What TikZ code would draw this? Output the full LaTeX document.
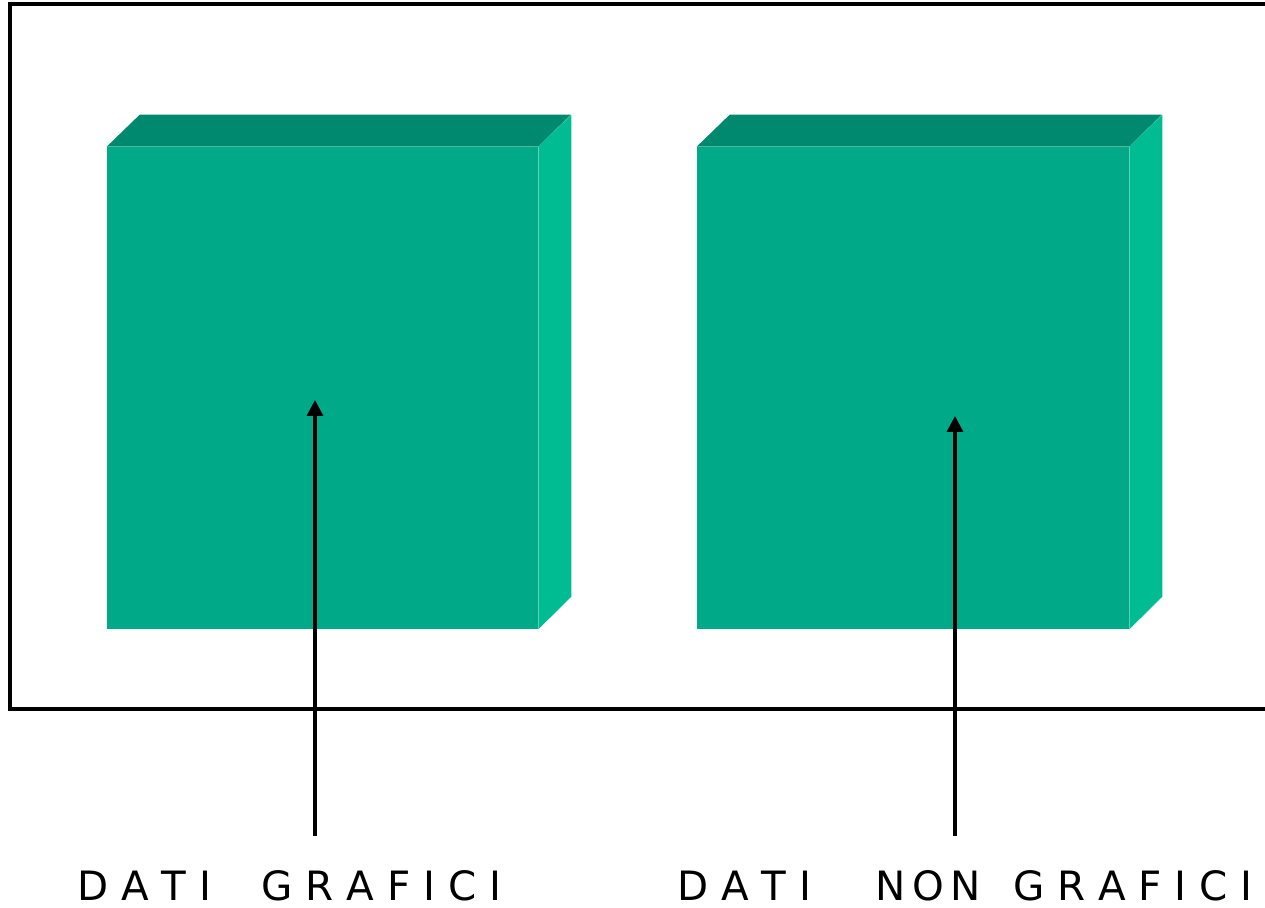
\documentclass[tikz,border=0pt]{standalone}
\usepackage{fontspec}
\setmainfont{DejaVu Sans}
\usetikzlibrary{arrows.meta}

\definecolor{fronte}{RGB}{0,170,136}
\definecolor{sopra}{RGB}{0,137,110}
\definecolor{lato}{RGB}{0,188,147}

\begin{document}
\begin{tikzpicture}[x=0.02cm, y=-0.02cm]
	\useasboundingbox (0,0) rectangle (1265,908);

	% cornice
	\draw[line width=1.8pt] (1275,4) -- (10,4) -- (10,709) -- (1275,709);

	% blocchi
	\node[fill=fronte, shape=rectangle, inner sep=0pt, minimum width=8.62cm, minimum height=9.64cm] (b_1) at (322.5,388) {};
	\node[fill=fronte, shape=rectangle, inner sep=0pt, minimum width=8.64cm, minimum height=9.64cm] (b_2) at (913,388) {};

	\fill[sopra] (b_1.north west) -- ++(33,-32) -- ++(431,0) -- (b_1.north east) -- cycle;
	\fill[lato] (b_1.north east) -- ++(33,-32) -- ++(0,482) -- (b_1.south east) -- cycle;
	\fill[sopra] (b_2.north west) -- ++(33,-32) -- ++(432,0) -- (b_2.north east) -- cycle;
	\fill[lato] (b_2.north east) -- ++(33,-32) -- ++(0,482) -- (b_2.south east) -- cycle;

	% etichette
	\node[font=\fontsize{23}{27}\selectfont, anchor=base west, inner sep=0pt] (l_1) at (77,900) {D A T I\hspace{1.25em}G R A F I C I};
	\node[font=\fontsize{23}{27}\selectfont, anchor=base west, inner sep=0pt] (l_2) at (677,900) {D A T I\hspace{1.58em}N\,O\,N\hspace{0.8em}G R A F I C I};

	\coordinate (p_1) at (315,836);
	\coordinate (t_1) at (315,400);
	\coordinate (p_2) at (955,836);
	\coordinate (t_2) at (955,416);

	\draw[line width=1.8pt, -{Triangle[length=0.32cm, width=0.32cm]}] (p_1) -- (t_1);
	\draw[line width=1.8pt, -{Triangle[length=0.32cm, width=0.32cm]}] (p_2) -- (t_2);
\end{tikzpicture}
\end{document}
